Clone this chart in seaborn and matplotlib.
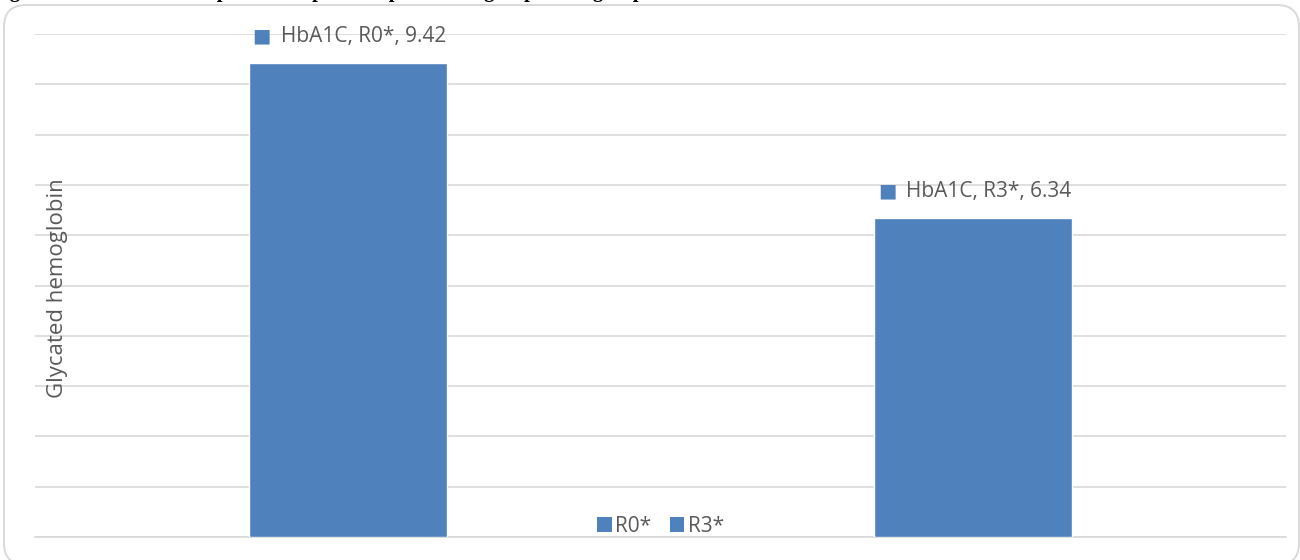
import matplotlib
matplotlib.use("Agg")
import matplotlib.pyplot as plt
from matplotlib.patches import FancyBboxPatch, Patch
import seaborn as sns
import pandas as pd

# Chart data
measure = "HbA1C"
series = ["R0*", "R3*"]
values = [9.42, 6.34]
y_ticks = list(range(0, 11))
y_label = "Glycated hemoglobin"
title = "Figure 5: HbA1C follow-up data compared to patients in group 1 and group 2"

BAR = "#4f81bd"
GRID = "#d9d9d9"
TXT = "#595959"

sns.set_theme(style="white")
plt.rcParams["font.family"] = ["Open Sans", "DejaVu Sans"]

df = pd.DataFrame({"series": series, "value": values})

fig = plt.figure(figsize=(13, 5.6), dpi=100)
W, H = 1300, 560

# Rounded chart frame
frame = FancyBboxPatch((0.04, -0.05), 12.95, 5.60,
                       boxstyle="round,pad=0,rounding_size=0.22",
                       transform=fig.dpi_scale_trans, facecolor="none",
                       edgecolor=GRID, linewidth=1.4, zorder=0)
fig.patches.append(frame)

ax = fig.add_axes([35 / W, 23 / H, (1286 - 35) / W, (537 - 34) / H])
ax.set_facecolor("none")

sns.barplot(data=df, x="series", y="value", hue="series",
            palette=[BAR, BAR], saturation=1, width=0.317, dodge=False,
            legend=False, ax=ax, zorder=3)

ax.set_xlim(-0.5, len(series) - 0.5)
ax.set_ylim(0, 10)
ax.set_yticks(y_ticks)
ax.yaxis.grid(True, color=GRID, linewidth=1.2, zorder=0)
ax.set_axisbelow(True)
ax.tick_params(left=False, bottom=False, labelleft=False, labelbottom=False)
ax.set_xlabel("")
ax.set_ylabel("")
for side in ["left", "right", "top"]:
    ax.spines[side].set_visible(False)
ax.spines["bottom"].set_color(GRID)
ax.spines["bottom"].set_linewidth(1.2)

# Data labels: marker square + "category, series, value"
for i, (s, v) in enumerate(zip(series, values)):
    ax.annotate("\u25A0", xy=(i, v), xytext=(-86, 27), textcoords="offset pixels",
                ha="center", va="center", color=BAR, fontsize=14,
                family=["DejaVu Sans"])
    ax.annotate(f"{measure}, {s}, {v:.2f}", xy=(i, v), xytext=(-67, 27),
                textcoords="offset pixels", ha="left", va="center",
                color=TXT, fontsize=15)

# Axis title drawn inside the plot region
fig.text(58 / W, 1 - 288 / H, y_label, rotation=90, ha="center", va="center",
         color=TXT, fontsize=16)

# Legend
handles = [Patch(facecolor=BAR, edgecolor="none") for _ in series]
ax.legend(handles, series, loc="center", bbox_to_anchor=(0.5, 11 / (537 - 34)),
          ncol=2, frameon=False, handlelength=0.7, handleheight=0.7,
          handletextpad=0.15, columnspacing=0.9, fontsize=15,
          labelcolor=TXT)

# Caption above the frame
fig.text(-8 / W, 1 + 3 / H, title, ha="left", va="baseline",
         fontsize=14.5, fontweight="bold", family=["Liberation Serif"],
         color="black")

fig.savefig("out.png", dpi=100)
